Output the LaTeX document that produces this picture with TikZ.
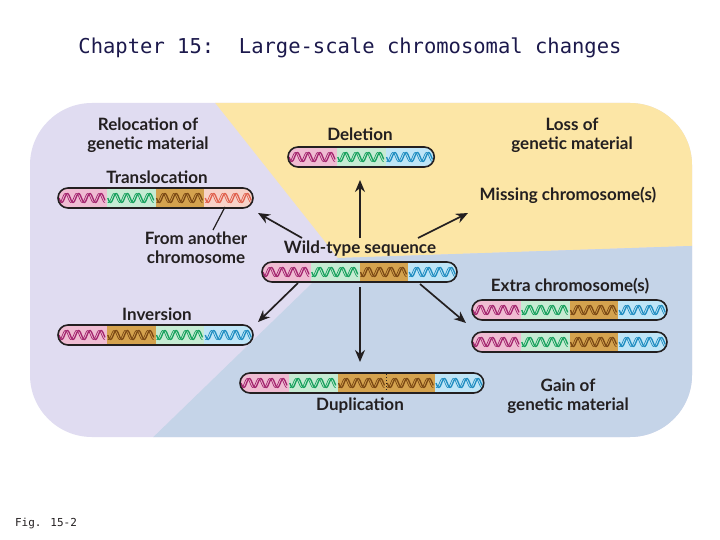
\documentclass[tikz,border=0pt]{standalone}
\usepackage{fontspec}
\setmainfont{Lato}
\newfontfamily\monof{DejaVu Sans Mono}
\definecolor{lav}{HTML}{E0DCF1}
\definecolor{yel}{HTML}{FCE6A6}
\definecolor{blu}{HTML}{C5D4E8}
\definecolor{pkF}{HTML}{EFBCD2}\definecolor{pkW}{HTML}{A3246E}
\definecolor{grF}{HTML}{C6EBD3}\definecolor{grW}{HTML}{16A05C}
\definecolor{orF}{HTML}{D4A24E}\definecolor{orW}{HTML}{7A4814}
\definecolor{blF}{HTML}{BFE5F7}\definecolor{blW}{HTML}{1E8CC0}
\definecolor{saF}{HTML}{F7D2C8}\definecolor{saW}{HTML}{E0604C}
\definecolor{ink}{HTML}{231F20}
\usetikzlibrary{arrows.meta}
\tikzset{
 capsule/.style={draw=ink,line width=1.6,rounded corners=10,minimum height=20,inner sep=0},
 lbl/.style={text=ink,font=\fontsize{17}{19}\selectfont\bfseries,align=center,inner sep=0},
 arr/.style={-{Stealth[length=12,width=10]},line width=1.7,draw=ink}
}
\newcommand{\chromo}[5]{%
 \begin{scope}
 \clip[rounded corners=10] (#2,#3-10) rectangle ({#2+#4*48.75},#3+10);
 \foreach \c [count=\i from 0] in {#5} {
  \fill[\c F] ({#2+\i*48.75},#3-10) rectangle ++(48.75,20);
  \draw[\c W,line width=1.3] plot[domain=0:46,samples=60] ({#2+\i*48.75+1+\x},{#3+4.5*sin(\x*32)});
  \draw[\c W,line width=0.7] plot[domain=0:46,samples=60] ({#2+\i*48.75+1+\x},{#3+4.5*sin(\x*32+70)});
 }
 \end{scope}
 \node[capsule,minimum width={#4*48.75}] (#1) at ({#2+#4*24.375},#3) {};
}
\begin{document}
\begin{tikzpicture}[x=1pt,y=-1pt]
\useasboundingbox (0,0) rectangle (720,540);
\fill[white] (0,0) rectangle (720,540);
\begin{scope}
\clip[rounded corners=62] (30,103) rectangle (692,437);
\fill[lav] (0,90) rectangle (720,450);
\fill[yel] (205,90) -- (720,90) -- (720,245) -- (338,258) -- cycle;
\fill[blu] (338,258) -- (720,245) -- (720,450) -- (140,450) -- cycle;
\end{scope}
\node[font=\monof\fontsize{20.5}{24}\selectfont,text=ink!80!blue] (title) at (350,48) {Chapter 15:\ \ Large-scale chromosomal changes};
\node[font=\monof\fontsize{11}{13}\selectfont,text=ink] (fig) at (46,523) {Fig. 15-2};

\chromo{wild}{262}{272}{4}{pk,gr,or,bl}
\chromo{del}{288}{157}{3}{pk,gr,bl}
\chromo{trans}{58}{198}{4}{pk,gr,or,sa}
\chromo{inv}{58}{335}{4}{pk,or,gr,bl}
\chromo{extA}{472}{310}{4}{pk,gr,or,bl}
\chromo{extB}{472}{342}{4}{pk,gr,or,bl}
\chromo{dup}{240}{383}{5}{pk,gr,or,or,bl}
\coordinate (dtop) at (386.25,374);
\coordinate (dbot) at (386.25,392);
\draw[ink,dotted,line width=1] (dtop) -- (dbot);

\node[lbl] (reloc) at (148,135) {Relocation of\\genetic material};
\node[lbl] (delL) at (360,134) {Deletion};
\node[lbl] (loss) at (572,135) {Loss of\\genetic material};
\node[lbl] (transL) at (157,177) {Translocation};
\node[lbl] (miss) at (568,195) {Missing chromosome(s)};
\node[lbl] (another) at (196,248) {From another\\chromosome};
\node[lbl] (wildL) at (360,249) {Wild-type sequence};
\node[lbl] (extra) at (570,286) {Extra chromosome(s)};
\node[lbl] (invL) at (157,314) {Inversion};
\node[lbl] (gain) at (568,396) {Gain of\\genetic material};
\node[lbl] (dupL) at (360,406) {Duplication};

\coordinate (pt) at (225,207);
\coordinate (pb) at (213,230);
\draw[ink,line width=1.2] (pt) -- (pb);
\coordinate (a1) at (360,238); \coordinate (t1) at (360,180);
\coordinate (a2) at (302,238); \coordinate (t2) at (258,213);
\coordinate (a3) at (418,238); \coordinate (t3) at (468,213);
\coordinate (a4) at (298,283); \coordinate (t4) at (258,322);
\coordinate (a5) at (360,287); \coordinate (t5) at (360,362);
\coordinate (a6) at (420,284); \coordinate (t6) at (466,323);
\foreach \i in {1,...,6} \draw[arr] (a\i) -- (t\i);
\end{tikzpicture}
\end{document}
